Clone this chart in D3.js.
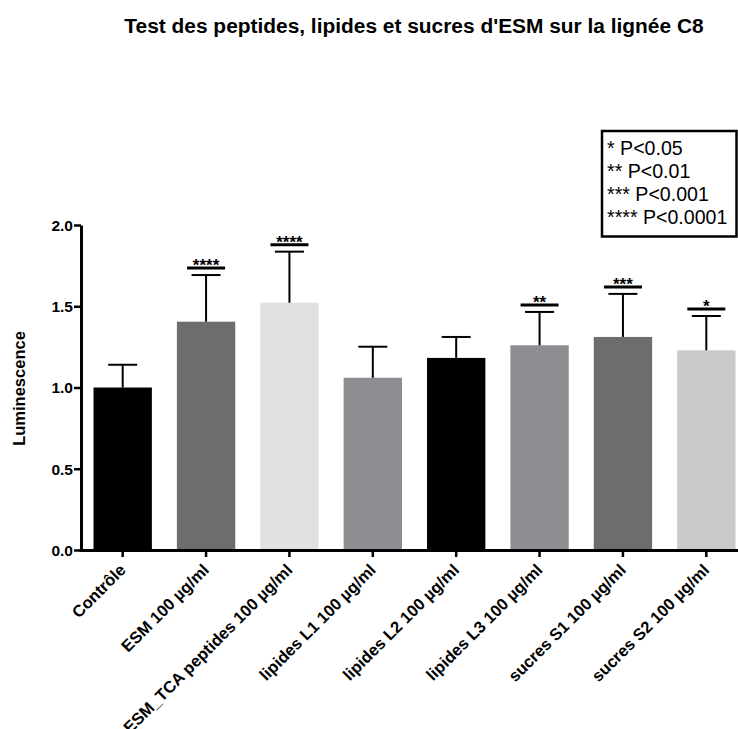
<!DOCTYPE html>
<html><head><meta charset="utf-8">
<script src="https://cdn.jsdelivr.net/npm/d3@7"></script>
<style>body{margin:0;background:#fff}svg{display:block}text{font-family:"Liberation Sans",Arial,sans-serif}</style>
</head><body><svg id="c" width="738" height="729"></svg>
<script>
const categories = ["Contrôle","ESM 100 µg/ml","ESM_TCA peptides 100 µg/ml","lipides L1 100 µg/ml","lipides L2 100 µg/ml","lipides L3 100 µg/ml","sucres S1 100 µg/ml","sucres S2 100 µg/ml"];
const means = [1.0, 1.405, 1.522, 1.06, 1.182, 1.26, 1.311, 1.229];
const errors = [0.14, 0.287, 0.314, 0.191, 0.129, 0.205, 0.265, 0.211];
const sigLabels = ["", "****", "****", "", "", "**", "***", "*"];
const barColors = ["#000000","#6d6d6d","#e1e1e1","#8e8e92","#000000","#8e8e92","#6d6d6d","#cacaca"];
const yTicks = [0, 0.5, 1.0, 1.5, 2.0];
const legendLines = ["* P<0.05","** P<0.01","*** P<0.001","**** P<0.0001"];
const title = "Test des peptides, lipides et sucres d'ESM sur la lignée C8";
const yLabel = "Luminescence";

const svg = d3.select("#c");
const x = d3.scaleBand().domain(categories).range([81, 748]).paddingInner(0.3).paddingOuter(0.15);
const y = d3.scaleLinear().domain([0, 2]).range([550, 225]);

svg.append("text").attr("x", 414).attr("y", 33).attr("text-anchor","middle")
  .attr("font-size", 20.9).attr("font-weight","bold").text(title);

// bars
svg.selectAll("rect.bar").data(categories).join("rect").attr("class","bar")
  .attr("x", d => x(d)).attr("width", x.bandwidth())
  .attr("y", (d,i) => y(means[i])).attr("height", (d,i) => y(0) - y(means[i]))
  .attr("fill", (d,i) => barColors[i]);

// error bars
const cx = d => x(d) + x.bandwidth()/2;
const eg = svg.append("g").attr("stroke","#000").attr("stroke-width",2);
categories.forEach((d,i) => {
  const top = y(means[i] + errors[i]);
  eg.append("line").attr("x1", cx(d)).attr("x2", cx(d)).attr("y1", y(means[i])).attr("y2", top);
  eg.append("line").attr("x1", cx(d)-14.5).attr("x2", cx(d)+14.5).attr("y1", top).attr("y2", top);
  if (sigLabels[i]) {
    const sy = top - 7;
    svg.append("line").attr("x1", cx(d)-19).attr("x2", cx(d)+19).attr("y1", sy).attr("y2", sy)
      .attr("stroke","#000").attr("stroke-width",3);
    svg.append("text").attr("x", cx(d)).attr("y", sy + 3).attr("text-anchor","middle")
      .attr("font-size", 17).attr("font-weight","bold").text(sigLabels[i]);
  }
});

// axes
const yAxis = svg.append("g").attr("transform","translate(81,0)")
  .call(d3.axisLeft(y).tickValues(yTicks).tickFormat(d3.format(".1f")).tickSize(7).tickSizeOuter(0));
yAxis.select(".domain").attr("stroke-width",3);
yAxis.selectAll(".tick line").attr("stroke-width",2.5);
yAxis.selectAll(".tick text").attr("font-size",15.5).attr("font-weight","bold").attr("fill","#000").attr("x",-8).attr("dy","0.35em");

const xAxis = svg.append("g").attr("transform","translate(0,550)")
  .call(d3.axisBottom(x).tickSize(7).tickSizeOuter(0));
xAxis.select(".domain").attr("stroke-width",3).attr("d","M79.5,0.5H738");
xAxis.selectAll(".tick line").attr("stroke-width",2.5);
xAxis.selectAll(".tick text").attr("font-size",16.5).attr("font-weight","bold").attr("fill","#000")
  .attr("text-anchor","end").attr("dy",0).attr("y",0)
  .attr("transform","translate(4,21) rotate(-45)");

svg.append("text").attr("transform","translate(25,388.5) rotate(-90)").attr("text-anchor","middle")
  .attr("font-size",16.5).attr("font-weight","bold").text(yLabel);

// legend
svg.append("rect").attr("x",602).attr("y",131).attr("width",134.5).attr("height",105.5)
  .attr("fill","#fff").attr("stroke","#000").attr("stroke-width",2.5);
svg.selectAll("text.leg").data(legendLines).join("text").attr("class","leg")
  .attr("x",607).attr("y",(d,i)=>154.5 + i*23.3).attr("font-size",19.6).text(d=>d);
</script></body></html>
